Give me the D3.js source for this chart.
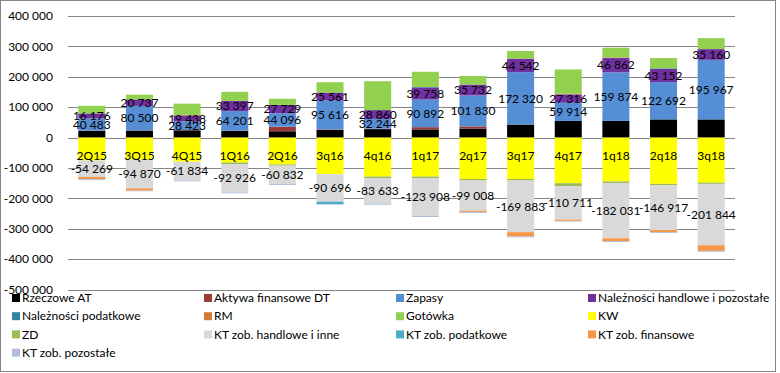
<!DOCTYPE html>
<meta charset="utf-8">
<style>
    body { margin: 0; background: #fff; }
    text { font-family: Lato, "Open Sans", sans-serif; font-size: 12px; fill: #000; }
</style>
<svg width="780" height="373"></svg>
<script src="https://d3js.org/d3.v7.min.js"></script>
<script>
    // dane
    var categories = ["2Q15", "3Q15", "4Q15", "1Q16", "2Q16", "3q16", "4q16", "1q17", "2q17", "3q17", "4q17", "1q18", "2q18", "3q18"];
    var rzeczoweAT = [22000, 23000, 24000, 22000, 21000, 25000, 28000, 27000, 30000, 43000, 55000, 55000, 60000, 60000];
    var aktywaFinDT = [1000, 1000, 1000, 1000, 15000, 2000, 1500, 7500, 7000, 0, 0, 0, 0, 0];
    var zapasy = [40483, 80500, 28423, 64201, 44096, 95616, 32244, 90892, 101830, 172320, 59914, 159874, 122692, 195967];
    var naleznosciHandlowe = [16176, 20737, 19438, 33397, 27729, 25561, 28860, 39758, 35732, 44542, 27316, 46862, 43152, 35160];
    var naleznosciPodatkowe = [0, 0, 0, 0, 0, 0, 0, 1500, 0, 0, 0, 0, 2000, 0];
    var rm = [0, 0, 2000, 0, 0, 0, 0, 0, 0, 0, 2000, 2000, 0, 0];
    var gotowka = [25000, 16000, 37000, 30000, 20000, 34000, 95000, 50000, 28000, 25000, 80000, 32000, 34000, 36000];
    var kw = [-75000, -72000, -79000, -82000, -88000, -120000, -128000, -128000, -136000, -136000, -150000, -144000, -152000, -148000];
    var zd = [0, 0, 0, -5000, -4000, 0, -5000, -5000, -5000, -5000, -9000, -5000, -5000, -4000];
    var ktHandlowe = [-54269, -94870, -61834, -92926, -60832, -90696, -83633, -123908, -99008, -169883, -110711, -182031, -146917, -201844];
    var ktPodatkowe = [0, 0, 0, 0, 0, -7500, 0, 0, 0, 0, 0, 0, 0, 0];
    var ktFinansowe = [-7000, -7500, 0, 0, 0, 0, 0, 0, -4000, -14000, -4000, -9000, -6500, -18500];
    var ktPozostale = [-3000, -2000, -3000, -3000, -3000, -2000, -4000, -4000, -4000, -3000, -2000, -3000, -3000, -3000];
    var yTicks = [400000, 300000, 200000, 100000, 0, -100000, -200000, -300000, -400000, -500000];

    var series = [
        { key: "Rzeczowe AT", values: rzeczoweAT, color: "#000000" },
        { key: "Aktywa finansowe DT", values: aktywaFinDT, color: "#9b3b38" },
        { key: "Zapasy", values: zapasy, color: "#558ed5" },
        { key: "Należności handlowe i pozostałe", values: naleznosciHandlowe, color: "#7030a0", label: true },
        { key: "Należności podatkowe", values: naleznosciPodatkowe, color: "#31859c" },
        { key: "RM", values: rm, color: "#d37c38" },
        { key: "Gotówka", values: gotowka, color: "#92d050" },
        { key: "KW", values: kw, color: "#ffff00" },
        { key: "ZD", values: zd, color: "#9bbb59" },
        { key: "KT zob. handlowe i inne", values: ktHandlowe, color: "#d9d9d9", label: true },
        { key: "KT zob. podatkowe", values: ktPodatkowe, color: "#4bacc6" },
        { key: "KT zob. finansowe", values: ktFinansowe, color: "#f79646" },
        { key: "KT zob. pozostałe", values: ktPozostale, color: "#b0bedc" }
    ];
    series[2].label = true;

    var svg = d3.select("svg");
    var fmt = d3.formatLocale({ decimal: ",", thousands: "\u00a0", grouping: [3], currency: ["", ""], minus: "-" }).format(",");

    var x = d3.scaleBand()
        .domain(categories)
        .range([68, 735])
        .paddingInner(0.433)
        .paddingOuter(0.2165);

    var y = d3.scaleLinear()
        .domain([-500000, 400000])
        .range([289.7, 16]);

    // ramka wykresu
    svg.append("rect")
        .attr("x", 0.5).attr("y", 0.5)
        .attr("width", 775).attr("height", 371)
        .attr("fill", "none")
        .attr("stroke", "#868686");

    // linie siatki + etykiety osi Y
    svg.append("g")
        .selectAll("line")
        .data(yTicks)
        .enter().append("line")
        .attr("x1", 68).attr("x2", 735)
        .attr("y1", function (d) { return Math.round(y(d)) + 0.5; })
        .attr("y2", function (d) { return Math.round(y(d)) + 0.5; })
        .attr("stroke", "#868686");

    svg.append("g")
        .selectAll("text")
        .data(yTicks)
        .enter().append("text")
        .attr("x", 53)
        .attr("y", function (d) { return y(d); })
        .attr("dy", "0.35em")
        .attr("text-anchor", "end")
        .text(function (d) { return fmt(d); });

    var rows = categories.map(function (c, i) {
        var r = { cat: c };
        series.forEach(function (s) { r[s.key] = s.values[i]; });
        return r;
    });

    var stacked = d3.stack()
        .keys(series.map(function (s) { return s.key; }))
        .offset(d3.stackOffsetDiverging)(rows);

    var layer = svg.append("g")
        .selectAll("g")
        .data(stacked)
        .enter().append("g")
        .attr("fill", function (d, i) { return series[i].color; });

    layer.selectAll("rect")
        .data(function (d) { return d; })
        .enter().append("rect")
        .attr("x", function (d) { return x(d.data.cat); })
        .attr("width", x.bandwidth())
        .attr("y", function (d) { return y(Math.max(d[0], d[1])); })
        .attr("height", function (d) { return Math.abs(y(d[0]) - y(d[1])); });

    // etykiety kategorii (przy osi zero)
    svg.append("g")
        .selectAll("text")
        .data(categories)
        .enter().append("text")
        .attr("x", function (d) { return x(d) + x.bandwidth() / 2; })
        .attr("y", y(0) + 18)
        .attr("dy", "0.35em")
        .attr("text-anchor", "middle")
        .text(function (d) { return d; });

    // etykiety danych
    stacked.forEach(function (s, i) {
        if (!series[i].label) return;
        svg.append("g")
            .selectAll("text")
            .data(s)
            .enter().append("text")
            .attr("x", function (d) { return x(d.data.cat) + x.bandwidth() / 2; })
            .attr("y", function (d) { return y((d[0] + d[1]) / 2); })
            .attr("dy", "0.35em")
            .attr("text-anchor", "middle")
            .text(function (d) { return fmt(d.data[s.key]); });
    });

    // legenda
    var legendX = [12, 204, 396, 588];
    var legend = svg.append("g")
        .selectAll("g")
        .data(series)
        .enter().append("g")
        .attr("transform", function (d, i) {
            return "translate(" + legendX[i % 4] + "," + (298 + Math.floor(i / 4) * 18.2) + ")";
        });

    legend.append("rect")
        .attr("x", 0).attr("y", -4)
        .attr("width", 8).attr("height", 8)
        .attr("fill", function (d) { return d.color; });

    legend.append("text")
        .attr("x", 10)
        .attr("dy", "0.35em")
        .text(function (d) { return d.key; });
</script>
